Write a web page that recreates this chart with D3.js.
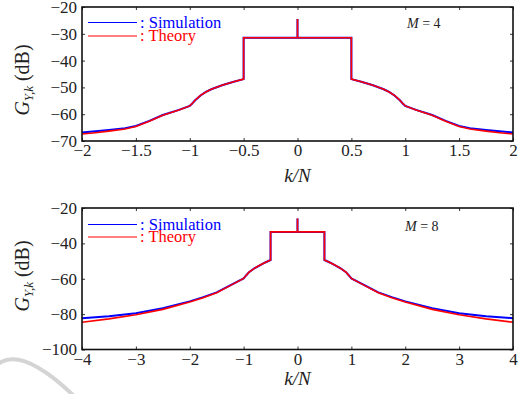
<!DOCTYPE html>
<html>
<head>
<meta charset="utf-8">
<script src="https://cdn.jsdelivr.net/npm/d3@7"></script>
<style>
  body { margin: 0; background: #fff; }
  svg { display: block; }
  text { font-family: "Liberation Serif", "Times New Roman", serif; fill: #222; }
  .domain { display: none; }
  .tick line { stroke: #333; }
</style>
</head>
<body>
<svg id="chart" width="524" height="394"></svg>
<script>
// panel 1: M = 4
const kTop = [-2, -1.875, -1.75, -1.6, -1.5, -1.375, -1.25, -1.1, -1, -0.975, -0.95, -0.9, -0.85, -0.8, -0.7, -0.6, -0.5,
              -0.5, 0, 0, 0, 0.5,
              0.5, 0.6, 0.7, 0.8, 0.85, 0.9, 0.95, 0.975, 1, 1.1, 1.25, 1.375, 1.5, 1.6, 1.75, 1.875, 2];
const simTop = [-66.8, -66.4, -65.9, -65.2, -64.4, -62.5, -60.3, -58.4, -56.9, -55.9, -54.8, -53.0, -51.7, -50.7, -49.2, -48.0, -46.9,
                -31.5, -31.5, -24.5, -31.5, -31.5,
                -46.9, -48.0, -49.2, -50.7, -51.7, -53.0, -54.8, -55.9, -56.9, -58.4, -60.3, -62.5, -64.4, -65.2, -65.9, -66.4, -66.8];
const theoTop = [-67.4, -66.9, -66.3, -65.5, -64.6, -62.6, -60.4, -58.4, -56.9, -55.9, -54.8, -53.0, -51.7, -50.7, -49.2, -48.0, -46.9,
                 -31.5, -31.5, -24.5, -31.5, -31.5,
                 -46.9, -48.0, -49.2, -50.7, -51.7, -53.0, -54.8, -55.9, -56.9, -58.4, -60.4, -62.6, -64.6, -65.5, -66.3, -66.9, -67.4];

// panel 2: M = 8
const kBot = [-4, -3.5, -3, -2.5, -2, -1.75, -1.5, -1.25, -1, -0.95, -0.9, -0.8, -0.7, -0.6, -0.5,
              -0.5, 0, 0, 0, 0.5,
              0.5, 0.6, 0.7, 0.8, 0.9, 0.95, 1, 1.25, 1.5, 1.75, 2, 2.5, 3, 3.5, 4];
const simBot = [-82.3, -81.2, -79.5, -76.6, -72.8, -70.4, -67.7, -63.8, -59.8, -58.0, -56.3, -54.1, -52.4, -50.8, -49.4,
                -33.5, -33.5, -26, -33.5, -33.5,
                -49.4, -50.8, -52.4, -54.1, -56.3, -58.0, -59.8, -63.8, -67.7, -70.4, -72.8, -76.6, -79.5, -81.2, -82.3];
const theoBot = [-84.6, -82.7, -80.4, -77.3, -73.2, -70.7, -67.9, -63.9, -59.8, -58.0, -56.3, -54.1, -52.4, -50.8, -49.4,
                 -33.5, -33.5, -26, -33.5, -33.5,
                 -49.4, -50.8, -52.4, -54.1, -56.3, -58.0, -59.8, -63.9, -67.9, -70.7, -73.2, -77.3, -80.4, -82.7, -84.6];

const xTicksTop = [-2, -1.5, -1, -0.5, 0, 0.5, 1, 1.5, 2];
const yTicksTop = [-70, -60, -50, -40, -30, -20];
const xTicksBot = [-4, -3, -2, -1, 0, 1, 2, 3, 4];
const yTicksBot = [-100, -80, -60, -40, -20];

const legendNames = [': Simulation', ': Theory'];
const seriesColors = ['#0000ff', '#ff0000'];

const svg = d3.select('#chart');
const fmt = d3.format('~g');

// faint watermark arc in the lower-left corner
svg.append('path')
   .attr('d', 'M-2,364 Q22,346 74,396')
   .attr('fill', 'none')
   .attr('stroke', '#d4d4d4')
   .attr('stroke-width', 4);

drawPanel({
  left: 82, right: 513, top: 7, bottom: 141,
  xDomain: [-2, 2], yDomain: [-70, -20],
  xTicks: xTicksTop, yTicks: yTicksTop,
  k: kTop, sim: simTop, theo: theoTop,
  legendY: [22.5, 36], mLabel: '4', mX: 407, mY: 28,
  xLabelY: 182, yLabelY: 80
});

drawPanel({
  left: 82, right: 513, top: 208, bottom: 349.5,
  xDomain: [-4, 4], yDomain: [-100, -20],
  xTicks: xTicksBot, yTicks: yTicksBot,
  k: kBot, sim: simBot, theo: theoBot,
  legendY: [224.5, 237], mLabel: '8', mX: 405, mY: 231,
  xLabelY: 385, yLabelY: 276
});

function drawPanel(p) {
  const g = svg.append('g');

  const x = d3.scaleLinear().domain(p.xDomain).range([p.left, p.right]);
  const y = d3.scaleLinear().domain(p.yDomain).range([p.bottom, p.top]);

  // axes on all four sides, ticks pointing inward
  const axes = [
    g.append('g')
     .attr('transform', translate(0, p.bottom))
     .call(d3.axisBottom(x).tickValues(p.xTicks).tickFormat(fmt)
             .tickSizeInner(-3).tickSizeOuter(0).tickPadding(3)),
    g.append('g')
     .attr('transform', translate(0, p.top))
     .call(d3.axisTop(x).tickValues(p.xTicks).tickSizeInner(-3).tickSizeOuter(0).tickFormat('')),
    g.append('g')
     .attr('transform', translate(p.left, 0))
     .call(d3.axisLeft(y).tickValues(p.yTicks).tickFormat(fmt)
             .tickSizeInner(-3).tickSizeOuter(0).tickPadding(5)),
    g.append('g')
     .attr('transform', translate(p.right, 0))
     .call(d3.axisRight(y).tickValues(p.yTicks).tickSizeInner(-3).tickSizeOuter(0).tickFormat(''))
  ];
  axes.forEach(a => a.attr('font-family', 'Liberation Serif, serif').attr('font-size', 17));

  const line = d3.line()
                 .x(d => x(d[0]))
                 .y(d => y(d[1]));

  g.append('path')
   .datum(d3.zip(p.k, p.sim))
   .attr('d', line)
   .attr('fill', 'none')
   .attr('stroke', seriesColors[0])
   .attr('stroke-width', 2);

  g.append('path')
   .datum(d3.zip(p.k, p.theo))
   .attr('d', line)
   .attr('fill', 'none')
   .attr('stroke', seriesColors[1])
   .attr('stroke-width', 1.6);

  // frame
  g.append('rect')
   .attr('x', p.left)
   .attr('y', p.top)
   .attr('width', p.right - p.left)
   .attr('height', p.bottom - p.top)
   .attr('fill', 'none')
   .attr('stroke', '#111')
   .attr('stroke-width', 1.6);

  // legend
  legendNames.forEach((name, i) => {
    g.append('line')
     .attr('x1', 88).attr('x2', 137)
     .attr('y1', p.legendY[i]).attr('y2', p.legendY[i])
     .attr('stroke', seriesColors[i])
     .attr('stroke-width', 1.2);
    g.append('text')
     .attr('x', 140)
     .attr('y', p.legendY[i] + 5)
     .style('font-size', '16.5px')
     .style('fill', seriesColors[i])
     .text(name);
  });

  // M = n annotation
  const m = g.append('text')
             .attr('x', p.mX)
             .attr('y', p.mY)
             .style('font-size', '14px');
  m.append('tspan').style('font-style', 'italic').text('M');
  m.append('tspan').text(' = ' + p.mLabel);

  // x title
  g.append('text')
   .attr('x', (p.left + p.right) / 2)
   .attr('y', p.xLabelY)
   .attr('text-anchor', 'middle')
   .style('font-size', '19px')
   .style('font-style', 'italic')
   .text('k/N');

  // y title, rotated
  const yg = g.append('g').attr('transform', translate(29, p.yLabelY));
  const yt = yg.append('text')
               .attr('transform', 'rotate(-90)')
               .attr('text-anchor', 'middle')
               .style('font-size', '20px');
  yt.append('tspan').style('font-style', 'italic').text('G');
  yt.append('tspan').style('font-style', 'italic').style('font-size', '13px')
    .attr('dy', 4).text('Y,k');
  yt.append('tspan').attr('dy', -4).text('  (dB)');
}

function translate(x, y) {
  return 'translate(' + String(x) + ',' + String(y) + ')';
}
</script>
</body>
</html>
